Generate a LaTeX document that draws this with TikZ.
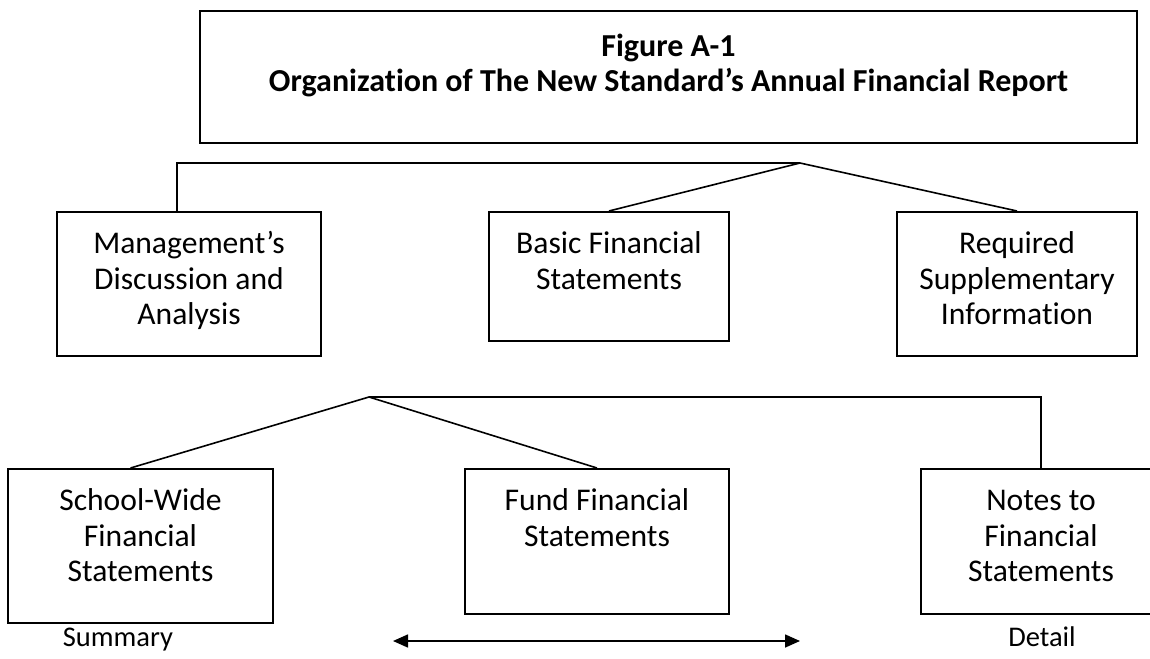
\documentclass[tikz,border=0pt]{standalone}
\usepackage{fontspec}
\setmainfont{Carlito}[Ligatures={NoCommon}]
\usetikzlibrary{arrows.meta}
% text box with fixed size, text set from the top
\newcommand{\cell}[4]{\parbox[c][#2][t]{#1}{\centering\rule{0pt}{#3}#4}}

\begin{document}
\begin{tikzpicture}[x=1pt,y=-1pt]
\tikzstyle{box}=[draw,line width=1.8pt,inner sep=0pt,anchor=north,font=\fontsize{31.6}{35.5}\selectfont]
\tikzstyle{link}=[line width=1.6pt]
\tikzstyle{side}=[anchor=base,font=\fontsize{28.5}{34}\selectfont]
\useasboundingbox (0,0) rectangle (1150,658);

\path (668.5,10) node[box,line width=2.2pt,font=\fontsize{32}{35}\selectfont\bfseries](title){\cell{937pt}{132pt}{45pt}{Figure A-1\\Organization of The New Standard’s Annual Financial Report}};

\path (189,211) node[box](mda){\cell{264pt}{144pt}{42pt}{Management’s\\Discussion and\\Analysis}} (609,211) node[box](basic){\cell{240pt}{129pt}{42pt}{Basic Financial\\Statements}} (1017,211) node[box](rsi){\cell{240pt}{144pt}{42pt}{Required\\Supplementary\\Information}};
\path (140.5,468) node[box](school){\cell{265pt}{154pt}{42pt}{School-Wide\\Financial\\Statements}} (597,468) node[box](fund){\cell{264pt}{145pt}{42pt}{Fund Financial\\Statements}} (1041,468) node[box](notes){\cell{240pt}{145pt}{42pt}{Notes to\\Financial\\Statements}};
\path (118,646) node[side](summary){Summary} (1042,646) node[side](detail){Detail};

\coordinate (c1) at (177,163);
\coordinate (j1) at (800,163);
\coordinate (j2) at (369,397);
\coordinate (c2) at (1041,397);
\coordinate (arrowl) at (393,641);
\coordinate (arrowr) at (800,641);

\draw[link] (mda.north -| c1) -- (c1) -- (j1);
\draw[link] (basic.north) -- (j1) -- (rsi.north);
\draw[link] ([xshift=-10pt]school.north) -- (j2) -- (fund.north);
\draw[link] (j2) -- (c2) -- (notes.north);

\draw[link,{Triangle[length=15pt,width=13pt]}-{Triangle[length=15pt,width=13pt]}] (arrowl) -- (arrowr);
\end{tikzpicture}
\end{document}
